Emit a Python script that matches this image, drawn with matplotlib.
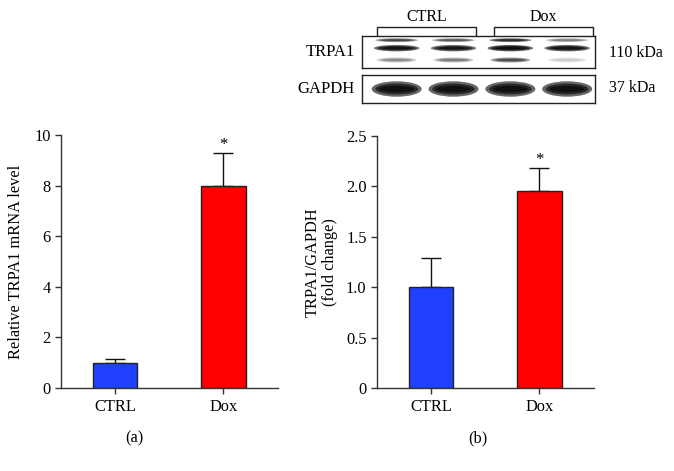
import matplotlib
matplotlib.use("Agg")
import matplotlib.pyplot as plt
from matplotlib.patches import Ellipse

plt.rcParams['font.family'] = ['Liberation Serif', 'DejaVu Serif']
plt.rcParams['font.size'] = 11

W, H = 674, 471

groups = ['CTRL', 'Dox']
colors = ['#2040ff', '#ff0000']

# (a) qPCR
mrna_mean = [1.0, 8.0]
mrna_err = [0.15, 1.27]
mrna_ticks = [0, 2, 4, 6, 8, 10]
mrna_ticklabels = ['0', '2', '4', '6', '8', '10']

# (b) western blot quantification
prot_mean = [1.0, 1.95]
prot_err = [0.29, 0.23]
prot_ticks = [0, 0.5, 1.0, 1.5, 2.0, 2.5]
prot_ticklabels = ['0', '0.5', '1.0', '1.5', '2.0', '2.5']

# blot band intensities, lanes 1-4 (CTRL, CTRL, Dox, Dox)
trpa1_upper = [0.6, 0.5, 0.75, 0.35]
trpa1_main = [0.95, 0.9, 1.0, 0.95]
trpa1_lower = [0.3, 0.35, 0.55, 0.12]
gapdh_band = [1.0, 1.0, 1.0, 1.0]


def px_axes(left, top, right, bottom):
    return fig.add_axes([left / W, 1 - bottom / H, (right - left) / W, (bottom - top) / H])


def bar_panel(ax, means, errs, ticks, ticklabels, ylim, ylabel):
    x = range(len(groups))
    ax.bar(x, means, width=0.41, color=colors, edgecolor='#222222', linewidth=1.0, zorder=2)
    ax.errorbar(x, means, yerr=[[0] * len(errs), errs], fmt='none', ecolor='#111111',
                elinewidth=1.0, capsize=7, capthick=1.0, zorder=1)
    for xi, m, e in zip(x, means, errs):
        if xi == 1:
            ax.annotate('*', (xi, m + e), xytext=(0, 0), textcoords='offset points',
                        ha='center', va='bottom', fontsize=12)
    ax.set_xlim(-0.5, 1.505)
    ax.set_ylim(*ylim)
    ax.set_yticks(ticks)
    ax.set_yticklabels(ticklabels)
    ax.set_xticks(list(x))
    ax.set_xticklabels(groups)
    for s in ['top', 'right']:
        ax.spines[s].set_visible(False)
    for s in ['left', 'bottom']:
        ax.spines[s].set_color('#333333')
        ax.spines[s].set_linewidth(1.0)
    ax.tick_params(direction='out', length=4, width=1.0, color='#333333', labelsize=11.8)
    ax.tick_params(axis='x', pad=4)
    ax.set_ylabel(ylabel, fontsize=11.8, linespacing=1.1)


fig = plt.figure(figsize=(W / 100, H / 100), dpi=100)

ax_a = px_axes(61, 135, 278, 388)
bar_panel(ax_a, mrna_mean, mrna_err, mrna_ticks, mrna_ticklabels, (0, 10),
          'Relative TRPA1 mRNA level')
ax_a.yaxis.set_label_coords(-0.17, 0.5)

ax_b = px_axes(377, 136, 594, 388)
bar_panel(ax_b, prot_mean, prot_err, prot_ticks, prot_ticklabels, (0, 2.5),
          'TRPA1/GAPDH\n(fold change)')
ax_b.yaxis.set_label_coords(-0.18, 0.5)

# blot images
lanes = range(4)


def blot(ax, rows, heights):
    for vals, (yc, h, w) in zip(rows, heights):
        for lane, v in zip(lanes, vals):
            for k in range(3):
                ax.add_patch(Ellipse((lane, yc), w * (1 - 0.15 * k), h * (1 - 0.3 * k),
                                     color='black', alpha=v * 0.6, lw=0))
    ax.set_xlim(-0.61, 3.49)
    ax.set_ylim(1, 0)
    ax.set_xticks([])
    ax.set_yticks([])
    for s in ax.spines.values():
        s.set_linewidth(1.0)
        s.set_color('#222222')


ax_t = px_axes(362, 36, 595, 68)
blot(ax_t, [trpa1_upper, trpa1_main, trpa1_lower],
     [(0.13, 0.12, 0.75), (0.38, 0.2, 0.8), (0.75, 0.16, 0.7)])
ax_g = px_axes(362, 75, 595, 103)
blot(ax_g, [gapdh_band], [(0.5, 0.55, 0.88)])

# overlay for annotations in pixel space
ov = fig.add_axes([0, 0, 1, 1], zorder=-1)
ov.set_xlim(0, W)
ov.set_ylim(H, 0)
ov.axis('off')
for x0, x1, label in [(377, 476, 'CTRL'), (494, 593, 'Dox')]:
    ov.plot([x0, x0, x1, x1], [36, 27, 27, 36], color='#222222', lw=1.0)
    ov.text((x0 + x1) / 2, 17, label, ha='center', va='center', fontsize=11.5)
ov.text(355, 52, 'TRPA1', ha='right', va='center', fontsize=12)
ov.text(355, 89, 'GAPDH', ha='right', va='center', fontsize=12)
ov.text(609, 53, '110 kDa', ha='left', va='center', fontsize=11.5)
ov.text(609, 88, '37 kDa', ha='left', va='center', fontsize=11.5)
ov.text(134, 438, '(a)', ha='center', va='center', fontsize=11.8)
ov.text(478, 438, '(b)', ha='center', va='center', fontsize=11.8)

fig.savefig('out.png', dpi=100)
